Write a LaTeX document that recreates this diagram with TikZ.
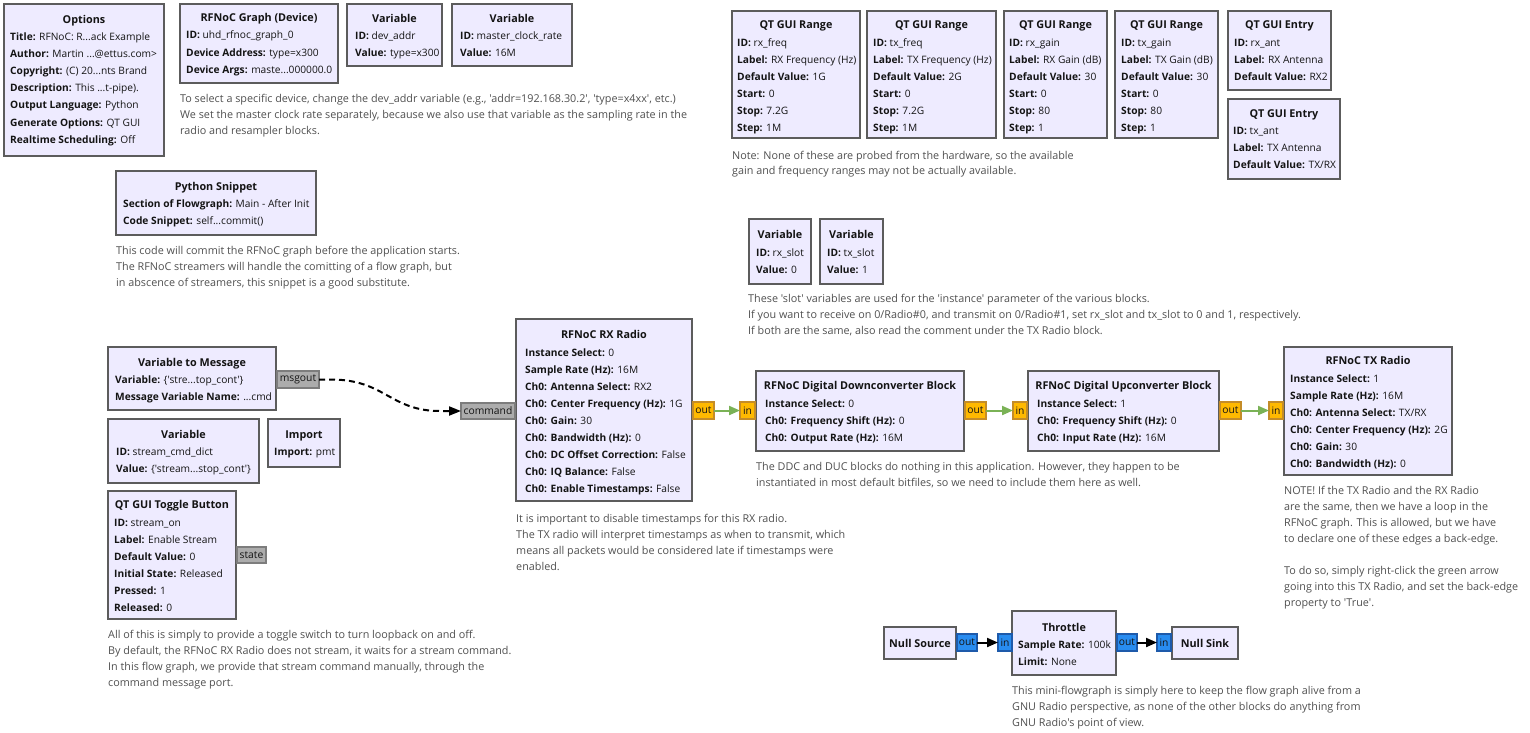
\documentclass[tikz,border=0pt]{standalone}
\usepackage{fontspec}
\setmainfont{Open Sans}
\newfontfamily\grcfont{Open Sans}
\usetikzlibrary{arrows.meta}
\definecolor{blkfill}{RGB}{238,235,255}
\definecolor{blkdraw}{RGB}{92,92,92}
\definecolor{txtc}{RGB}{20,20,20}
\definecolor{cmtc}{RGB}{80,80,80}
\definecolor{orfill}{RGB}{255,185,0}
\definecolor{ordraw}{RGB}{196,140,40}
\definecolor{bufill}{RGB}{40,140,240}
\definecolor{budraw}{RGB}{30,90,170}
\definecolor{gyfill}{RGB}{172,172,172}
\definecolor{gydraw}{RGB}{125,125,125}
\definecolor{grn}{RGB}{122,178,86}
\newcommand\kv[2]{\textbf{#1:} #2}
\newcommand\blockat[5]{\node[blk, minimum width=#4pt, minimum height=#5pt] (#1) at (#2,#3) {};}
\begin{document}
\begin{tikzpicture}[x=1pt,y=-1pt,font=\grcfont\fontsize{10.8}{13}\selectfont,
  blk/.style={draw=blkdraw, fill=blkfill, line width=2pt, anchor=north west, inner sep=0pt, outer sep=0pt},
  ttl/.style={font=\grcfont\fontsize{10.8}{13}\selectfont\bfseries, text=txtc, inner sep=0pt, anchor=base, yshift=-4.3pt},
  row/.style={font=\grcfont\fontsize{10.2}{12}\selectfont, text=txtc, inner sep=0pt, anchor=base west, yshift=-4.2pt},
  cmt/.style={font=\grcfont\fontsize{10.8}{13}\selectfont, text=cmtc, inner sep=0pt, anchor=base west, yshift=-4.2pt},
  port/.style={anchor=north west, inner sep=0pt, outer sep=0pt, line width=1.5pt, text=txtc, font=\grcfont\fontsize{10.3}{12}\selectfont},
  oport/.style={port, draw=ordraw, fill=orfill},
  bport/.style={port, draw=budraw, fill=bufill},
  gport/.style={port, draw=gydraw, fill=gyfill},
  garrow/.style={draw=grn, line width=2pt, -{Triangle[length=11pt,width=9pt]}},
  karrow/.style={draw=black, line width=2pt, -{Triangle[length=11pt,width=9pt]}},
  msgline/.style={draw=black, line width=2pt, dash pattern=on 6pt off 4pt, -{Triangle[length=12pt,width=9pt]}}
]
\useasboundingbox[fill=white] (0,0) rectangle (1530,732);

% Options
\blockat{opt}{4}{4}{160}{152}
\node[ttl] (opt-t) at (84,19) {Options};
\node[row] (opt-1) at (10,36) {\kv{Title}{RFNoC: R...ack Example}};
\node[row] (opt-2) at (10,53) {\kv{Author}{Martin ...@ettus.com>}};
\node[row] (opt-3) at (10,70) {\kv{Copyright}{(C) 20...nts Brand}};
\node[row] (opt-4) at (10,87) {\kv{Description}{This ...t-pipe).}};
\node[row] (opt-5) at (10,104) {\kv{Output Language}{Python}};
\node[row] (opt-6) at (10,122) {\kv{Generate Options}{QT GUI}};
\node[row] (opt-7) at (10,139) {\kv{Realtime Scheduling}{Off}};

% RFNoC graph
\blockat{grf}{180}{4}{158}{79}
\node[ttl] (grf-t) at (259,17) {RFNoC Graph (Device)};
\node[row] (grf-1) at (186,34) {\kv{ID}{uhd\_rfnoc\_graph\_0}};
\node[row] (grf-2) at (186,52) {\kv{Device Address}{type=x300}};
\node[row] (grf-3) at (186,69) {\kv{Device Args}{maste...000000.0}};

% Variables
\blockat{vdev}{347}{4}{95}{62}
\node[ttl] (vdev-t) at (394.5,18) {Variable};
\node[row] (vdev-1) at (355,35) {\kv{ID}{dev\_addr}};
\node[row] (vdev-2) at (355,52) {\kv{Value}{type=x300}};
\blockat{vmcr}{452}{4}{120}{62}
\node[ttl] (vmcr-t) at (512,18) {Variable};
\node[row] (vmcr-1) at (460,35) {\kv{ID}{master\_clock\_rate}};
\node[row] (vmcr-2) at (460,52) {\kv{Value}{16M}};

\node[cmt] (c-dev1) at (180,98) {To select a specific device, change the dev\_addr variable (e.g., 'addr=192.168.30.2', 'type=x4xx', etc.)};
\node[cmt] (c-dev2) at (180,114) {We set the master clock rate separately, because we also use that variable as the sampling rate in the};
\node[cmt] (c-dev3) at (180,130) {radio and resampler blocks.};

% QT GUI Ranges
\blockat{r1}{732}{11}{128}{127}
\node[ttl] (r1-t) at (796,24) {QT GUI Range};
\node[row] (r1-1) at (737,42) {\kv{ID}{rx\_freq}};
\node[row] (r1-2) at (737,59) {\kv{Label}{RX Frequency (Hz)}};
\node[row] (r1-3) at (737,76) {\kv{Default Value}{1G}};
\node[row] (r1-4) at (737,93) {\kv{Start}{0}};
\node[row] (r1-5) at (737,110) {\kv{Stop}{7.2G}};
\node[row] (r1-6) at (737,127) {\kv{Step}{1M}};
\blockat{r2}{867}{11}{129}{127}
\node[ttl] (r2-t) at (931.5,24) {QT GUI Range};
\node[row] (r2-1) at (873,42) {\kv{ID}{tx\_freq}};
\node[row] (r2-2) at (873,59) {\kv{Label}{TX Frequency (Hz)}};
\node[row] (r2-3) at (873,76) {\kv{Default Value}{2G}};
\node[row] (r2-4) at (873,93) {\kv{Start}{0}};
\node[row] (r2-5) at (873,110) {\kv{Stop}{7.2G}};
\node[row] (r2-6) at (873,127) {\kv{Step}{1M}};
\blockat{r3}{1004}{11}{103}{127}
\node[ttl] (r3-t) at (1055.5,24) {QT GUI Range};
\node[row] (r3-1) at (1009,42) {\kv{ID}{rx\_gain}};
\node[row] (r3-2) at (1009,59) {\kv{Label}{RX Gain (dB)}};
\node[row] (r3-3) at (1009,76) {\kv{Default Value}{30}};
\node[row] (r3-4) at (1009,93) {\kv{Start}{0}};
\node[row] (r3-5) at (1009,110) {\kv{Stop}{80}};
\node[row] (r3-6) at (1009,127) {\kv{Step}{1}};
\blockat{r4}{1115}{11}{103}{127}
\node[ttl] (r4-t) at (1166.5,24) {QT GUI Range};
\node[row] (r4-1) at (1121,42) {\kv{ID}{tx\_gain}};
\node[row] (r4-2) at (1121,59) {\kv{Label}{TX Gain (dB)}};
\node[row] (r4-3) at (1121,76) {\kv{Default Value}{30}};
\node[row] (r4-4) at (1121,93) {\kv{Start}{0}};
\node[row] (r4-5) at (1121,110) {\kv{Stop}{80}};
\node[row] (r4-6) at (1121,127) {\kv{Step}{1}};
\blockat{e1}{1228}{11}{103}{79}
\node[ttl] (e1-t) at (1279.5,24) {QT GUI Entry};
\node[row] (e1-1) at (1234,42) {\kv{ID}{rx\_ant}};
\node[row] (e1-2) at (1234,59) {\kv{Label}{RX Antenna}};
\node[row] (e1-3) at (1234,76) {\kv{Default Value}{RX2}};
\blockat{e2}{1228}{99}{112}{80}
\node[ttl] (e2-t) at (1284,113) {QT GUI Entry};
\node[row] (e2-1) at (1233,130) {\kv{ID}{tx\_ant}};
\node[row] (e2-2) at (1233,147) {\kv{Label}{TX Antenna}};
\node[row] (e2-3) at (1233,164) {\kv{Default Value}{TX/RX}};
\node[cmt] (c-rng1) at (732,155) {Note: None of these are probed from the hardware, so the available};
\node[cmt] (c-rng2) at (732,170) {gain and frequency ranges may not be actually available.};

% Python snippet
\blockat{py}{116}{171}{200}{64}
\node[ttl] (py-t) at (216,186) {Python Snippet};
\node[row] (py-1) at (123,203) {\kv{Section of Flowgraph}{Main - After Init}};
\node[row] (py-2) at (123,220) {\kv{Code Snippet}{self...commit()}};
\node[cmt] (c-py1) at (116,250) {This code will commit the RFNoC graph before the application starts.};
\node[cmt] (c-py2) at (116,266) {The RFNoC streamers will handle the comitting of a flow graph, but};
\node[cmt] (c-py3) at (116,282) {in abscence of streamers, this snippet is a good substitute.};

% slot variables
\blockat{vrx}{749}{219}{62}{65}
\node[ttl] (vrx-t) at (780,234) {Variable};
\node[row] (vrx-1) at (756,252) {\kv{ID}{rx\_slot}};
\node[row] (vrx-2) at (756,269) {\kv{Value}{0}};
\blockat{vtx}{820}{219}{63}{65}
\node[ttl] (vtx-t) at (851.5,234) {Variable};
\node[row] (vtx-1) at (827,252) {\kv{ID}{tx\_slot}};
\node[row] (vtx-2) at (827,269) {\kv{Value}{1}};
\node[cmt] (c-sl1) at (748,298) {These 'slot' variables are used for the 'instance' parameter of the various blocks.};
\node[cmt] (c-sl2) at (748,314) {If you want to receive on 0/Radio\#0, and transmit on 0/Radio\#1, set rx\_slot and tx\_slot to 0 and 1, respectively.};
\node[cmt] (c-sl3) at (748,330) {If both are the same, also read the comment under the TX Radio block.};

% Variable to message
\blockat{v2m}{108}{347}{168}{63}
\node[ttl] (v2m-t) at (192,362) {Variable to Message};
\node[row] (v2m-1) at (115,379) {\kv{Variable}{\{'stre...top\_cont'\}}};
\node[row] (v2m-2) at (115,396) {\kv{Message Variable Name}{...cmd}};
\node[gport, minimum width=42pt, minimum height=17pt] (msgout) at (277,371) {msgout};

\blockat{vcmd}{108}{419}{151}{64}
\node[ttl] (vcmd-t) at (183.5,434) {Variable};
\node[row] (vcmd-1) at (116,451) {\kv{ID}{stream\_cmd\_dict}};
\node[row] (vcmd-2) at (116,468) {\kv{Value}{\{'stream...stop\_cont'\}}};
\blockat{imp}{268}{419}{72}{48}
\node[ttl] (imp-t) at (304,434) {Import};
\node[row] (imp-1) at (274,451) {\kv{Import}{pmt}};

% Toggle button
\blockat{tog}{108}{491}{128}{128}
\node[ttl] (tog-t) at (172,504) {QT GUI Toggle Button};
\node[row] (tog-1) at (114,522) {\kv{ID}{stream\_on}};
\node[row] (tog-2) at (114,539) {\kv{Label}{Enable Stream}};
\node[row] (tog-3) at (114,556) {\kv{Default Value}{0}};
\node[row] (tog-4) at (114,573) {\kv{Initial State}{Released}};
\node[row] (tog-5) at (114,590) {\kv{Pressed}{1}};
\node[row] (tog-6) at (114,607) {\kv{Released}{0}};
\node[gport, minimum width=29pt, minimum height=16pt] (state) at (237,547) {state};
\node[cmt] (c-tg1) at (108,634) {All of this is simply to provide a toggle switch to turn loopback on and off.};
\node[cmt] (c-tg2) at (108,650) {By default, the RFNoC RX Radio does not stream, it waits for a stream command.};
\node[cmt] (c-tg3) at (108,666) {In this flow graph, we provide that stream command manually, through the};
\node[cmt] (c-tg4) at (108,682) {command message port.};

% RX radio
\blockat{rx}{516}{319}{176}{182}
\node[ttl] (rx-t) at (604,334) {RFNoC RX Radio};
\node[row] (rx-1) at (525,352) {\kv{Instance Select}{0}};
\node[row] (rx-2) at (525,369) {\kv{Sample Rate (Hz)}{16M}};
\node[row] (rx-3) at (525,386) {\kv{Ch0: Antenna Select}{RX2}};
\node[row] (rx-4) at (525,403) {\kv{Ch0: Center Frequency (Hz)}{1G}};
\node[row] (rx-5) at (525,420) {\kv{Ch0: Gain}{30}};
\node[row] (rx-6) at (525,437) {\kv{Ch0: Bandwidth (Hz)}{0}};
\node[row] (rx-7) at (525,454) {\kv{Ch0: DC Offset Correction}{False}};
\node[row] (rx-8) at (525,471) {\kv{Ch0: IQ Balance}{False}};
\node[row] (rx-9) at (525,488) {\kv{Ch0: Enable Timestamps}{False}};
\node[gport, minimum width=54pt, minimum height=16pt] (cmd) at (461,403) {command};
\node[oport, minimum width=21pt, minimum height=17pt] (rx-out) at (693,402) {out};
\node[cmt] (c-rx1) at (516,518) {It is important to disable timestamps for this RX radio.};
\node[cmt] (c-rx2) at (516,534) {The TX radio will interpret timestamps as when to transmit, which};
\node[cmt] (c-rx3) at (516,550) {means all packets would be considered late if timestamps were};
\node[cmt] (c-rx4) at (516,566) {enabled.};

% DDC
\blockat{ddc}{756}{371}{208}{80}
\node[ttl] (ddc-t) at (860,385) {RFNoC Digital Downconverter Block};
\node[row] (ddc-1) at (765,403) {\kv{Instance Select}{0}};
\node[row] (ddc-2) at (765,420) {\kv{Ch0: Frequency Shift (Hz)}{0}};
\node[row] (ddc-3) at (765,437) {\kv{Ch0: Output Rate (Hz)}{16M}};
\node[oport, minimum width=15pt, minimum height=17pt] (ddc-in) at (740,402) {in};
\node[oport, minimum width=21pt, minimum height=17pt] (ddc-out) at (965,402) {out};
\node[cmt] (c-dd1) at (756,466) {The DDC and DUC blocks do nothing in this application. However, they happen to be};
\node[cmt] (c-dd2) at (756,482) {instantiated in most default bitfiles, so we need to include them here as well.};

% DUC
\blockat{duc}{1028}{371}{191}{80}
\node[ttl] (duc-t) at (1123.5,385) {RFNoC Digital Upconverter Block};
\node[row] (duc-1) at (1037,403) {\kv{Instance Select}{1}};
\node[row] (duc-2) at (1037,420) {\kv{Ch0: Frequency Shift (Hz)}{0}};
\node[row] (duc-3) at (1037,437) {\kv{Ch0: Input Rate (Hz)}{16M}};
\node[oport, minimum width=14pt, minimum height=17pt] (duc-in) at (1013,402) {in};
\node[oport, minimum width=21pt, minimum height=17pt] (duc-out) at (1220,402) {out};

% TX radio
\blockat{tx}{1284}{347}{168}{128}
\node[ttl] (tx-t) at (1368,360) {RFNoC TX Radio};
\node[row] (tx-1) at (1290,378) {\kv{Instance Select}{1}};
\node[row] (tx-2) at (1290,395) {\kv{Sample Rate (Hz)}{16M}};
\node[row] (tx-3) at (1290,412) {\kv{Ch0: Antenna Select}{TX/RX}};
\node[row] (tx-4) at (1290,429) {\kv{Ch0: Center Frequency (Hz)}{2G}};
\node[row] (tx-5) at (1290,446) {\kv{Ch0: Gain}{30}};
\node[row] (tx-6) at (1290,463) {\kv{Ch0: Bandwidth (Hz)}{0}};
\node[oport, minimum width=14pt, minimum height=17pt] (tx-in) at (1269,402) {in};
\node[cmt] (c-tx1) at (1284,490) {NOTE! If the TX Radio and the RX Radio};
\node[cmt] (c-tx2) at (1284,506) {are the same, then we have a loop in the};
\node[cmt] (c-tx3) at (1284,522) {RFNoC graph. This is allowed, but we have};
\node[cmt] (c-tx4) at (1284,538) {to declare one of these edges a back-edge.};
\node[cmt] (c-tx5) at (1284,570) {To do so, simply right-click the green arrow};
\node[cmt] (c-tx6) at (1284,586) {going into this TX Radio, and set the back-edge};
\node[cmt] (c-tx7) at (1284,602) {property to 'True'.};

% Null chain
\blockat{nsrc}{884}{627}{72}{32}
\node[ttl] (nsrc-t) at (920,643) {Null Source};
\node[bport, minimum width=20pt, minimum height=17pt] (nsrc-out) at (957,634) {out};
\blockat{thr}{1012}{611}{104}{64}
\node[ttl] (thr-t) at (1064,627) {Throttle};
\node[row] (thr-1) at (1018,644) {\kv{Sample Rate}{100k}};
\node[row] (thr-2) at (1018,661) {\kv{Limit}{None}};
\node[bport, minimum width=14pt, minimum height=17pt] (thr-in) at (998,634) {in};
\node[bport, minimum width=20pt, minimum height=17pt] (thr-out) at (1117,634) {out};
\blockat{nsnk}{1172}{627}{66}{32}
\node[ttl] (nsnk-t) at (1205,643) {Null Sink};
\node[bport, minimum width=14pt, minimum height=17pt] (nsnk-in) at (1157,634) {in};
\node[cmt] (c-nl1) at (1012,690) {This mini-flowgraph is simply here to keep the flow graph alive from a};
\node[cmt] (c-nl2) at (1012,706) {GNU Radio perspective, as none of the other blocks do anything from};
\node[cmt] (c-nl3) at (1012,722) {GNU Radio's point of view.};

% connectors
\coordinate (m1) at (331,379.5);
\coordinate (m2) at (440,411);
\draw[msgline] (msgout.east) -- (m1) .. controls (385,379.5) and (390,411) .. (m2) -- (cmd.west);
\draw[garrow] (rx-out.east) -- (ddc-in.west);
\draw[garrow] (ddc-out.east) -- (duc-in.west);
\draw[garrow] (duc-out.east) -- (tx-in.west);
\draw[karrow] (nsrc-out.east) -- (thr-in.west);
\draw[karrow] (thr-out.east) -- (nsnk-in.west);
\end{tikzpicture}
\end{document}
